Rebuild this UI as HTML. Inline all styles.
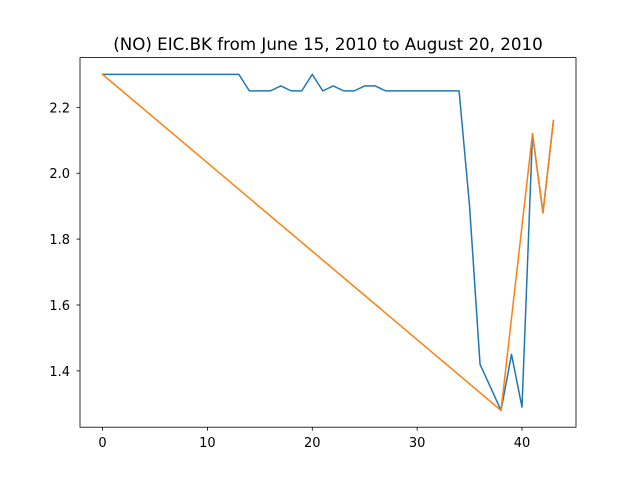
<!DOCTYPE html>
<html><head><meta charset="utf-8"><style>
body{margin:0;background:#fff;}
svg{display:block;font-family:"DejaVu Sans","Liberation Sans",sans-serif;}
</style></head><body>
<svg id="chart" width="640" height="480">
<rect width="640" height="480" fill="#fff"/>
<text x="328" y="50" text-anchor="middle" font-size="16.7">(NO) EIC.BK from June 15, 2010 to August 20, 2010</text>
<g id="ticks"></g>
<g id="series"></g>
<rect x="80" y="57.6" width="496" height="369.6" fill="none" stroke="#000" stroke-width="0.8"/>
</svg>
<script>
const blueX = [0,1,2,3,4,5,6,7,8,9,10,11,12,13,14,15,16,17,18,19,20,21,22,23,24,25,26,27,28,29,30,31,32,33,34,35,36,37,38,39,40,41,42,43];
const blueY = [2.30,2.30,2.30,2.30,2.30,2.30,2.30,2.30,2.30,2.30,2.30,2.30,2.30,2.30,2.25,2.25,2.25,2.265,2.25,2.25,2.30,2.25,2.265,2.25,2.25,2.265,2.265,2.25,2.25,2.25,2.25,2.25,2.25,2.25,2.25,1.90,1.42,1.35,1.28,1.45,1.29,2.12,1.88,2.16];
const orangeX = [0,38,41,42,43];
const orangeY = [2.30,1.28,2.12,1.88,2.16];
const xTicks = [0,10,20,30,40];
const yTicks = [1.4,1.6,1.8,2.0,2.2];
const yTickLabels = ["1.4","1.6","1.8","2.0","2.2"];

const L=80,R=576,T=57.6,B=427.2;
const xmin=-2.15,xmax=45.15,ymin=1.229,ymax=2.351;
const sx=v=>L+(v-xmin)/(xmax-xmin)*(R-L);
const sy=v=>B-(v-ymin)/(ymax-ymin)*(B-T);
const NS="http://www.w3.org/2000/svg";
const tg=document.getElementById('ticks'), sg=document.getElementById('series');
function mk(tag,attrs,parent){const e=document.createElementNS(NS,tag);for(const k in attrs)e.setAttribute(k,attrs[k]);parent.appendChild(e);return e;}
xTicks.forEach(v=>{
  const x=sx(v);
  const l=mk('line',{x1:x,x2:x,y1:B,y2:B+3.5,stroke:'#000','stroke-width':0.8},tg);
  
  
  const t=mk('text',{x:x,y:B+20,'text-anchor':'middle','font-size':13},tg);
  t.textContent=String(v);
  
  
});
yTicks.forEach((v,i)=>{
  const y=sy(v);
  const l=mk('line',{x1:L-3.5,x2:L,y1:y,y2:y,stroke:'#000','stroke-width':0.8},tg);
  
  
  const t=mk('text',{x:L-10,y:y+5,'text-anchor':'end','font-size':13},tg);
  t.textContent=yTickLabels[i];
  
  
});
function line(xs,ys,color,name){
  const p=mk('polyline',{points:xs.map((x,i)=>sx(x)+','+sy(ys[i])).join(' '),fill:'none',stroke:color,'stroke-width':1.5,'stroke-linejoin':'round','stroke-linecap':'square'},sg);
  
  
}
line(blueX,blueY,'#1f77b4','price-line');
line(orangeX,orangeY,'#ff7f0e','trend-line');
</script>
</body></html>
